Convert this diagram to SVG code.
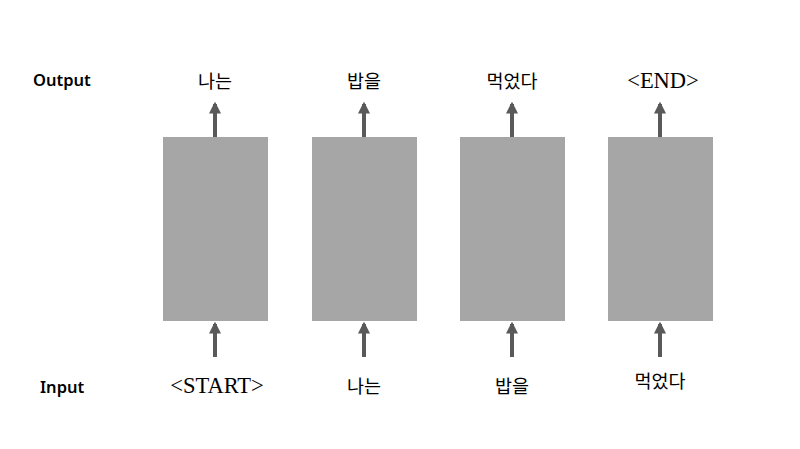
<svg xmlns="http://www.w3.org/2000/svg" width="800" height="449" viewBox="0 0 800 449">
<defs>
<style>
.box{fill:#a6a6a6}
.arr{stroke:#595959;stroke-width:4;fill:none}
.lbl{font-family:"Noto Sans","Noto Sans CJK KR",sans-serif;font-size:16.5px;font-weight:600;fill:#000}
.ko{font-family:"Noto Sans CJK KR",sans-serif;font-size:18.5px;fill:#000;text-anchor:middle}
.se{font-family:"Liberation Serif","Noto Sans CJK KR",serif;font-size:22.5px;fill:#000;text-anchor:middle}
</style>
<marker id="ah" viewBox="0 0 10 10" refX="8" refY="5" markerWidth="3" markerHeight="3" orient="auto" markerUnits="strokeWidth">
<path d="M0,0 L10,5 L0,10 Z" fill="#595959"/>
</marker>
</defs>
<rect width="800" height="449" fill="#fff"/>
<text class="lbl" x="33" y="86">Output</text>
<text class="lbl" x="40" y="393">Input</text>
<g id="cell1"><rect class="box" x="163" y="137" width="105" height="184"/></g>
<g id="cell2"><rect class="box" x="312" y="137" width="105" height="184"/></g>
<g id="cell3"><rect class="box" x="460" y="137" width="105" height="184"/></g>
<g id="cell4"><rect class="box" x="608" y="137" width="105" height="184"/></g>
<g id="out1"><text class="ko" x="215" y="88">나는</text></g>
<g id="out2"><text class="ko" x="364" y="88">밥을</text></g>
<g id="out3"><text class="ko" x="512" y="88">먹었다</text></g>
<g id="out4"><text class="se" x="663" y="88">&lt;END&gt;</text></g>
<g id="in1"><text class="se" x="217" y="393">&lt;START&gt;</text></g>
<g id="in2"><text class="ko" x="364" y="393">나는</text></g>
<g id="in3"><text class="ko" x="512" y="393">밥을</text></g>
<g id="in4"><text class="ko" x="660" y="388">먹었다</text></g>
<g id="connectors">
<line class="arr" x1="215" y1="137" x2="215" y2="104" marker-end="url(#ah)"/>
<line class="arr" x1="364" y1="137" x2="364" y2="104" marker-end="url(#ah)"/>
<line class="arr" x1="512" y1="137" x2="512" y2="104" marker-end="url(#ah)"/>
<line class="arr" x1="660" y1="137" x2="660" y2="104" marker-end="url(#ah)"/>
<line class="arr" x1="215" y1="357" x2="215" y2="324" marker-end="url(#ah)"/>
<line class="arr" x1="364" y1="357" x2="364" y2="324" marker-end="url(#ah)"/>
<line class="arr" x1="512" y1="357" x2="512" y2="324" marker-end="url(#ah)"/>
<line class="arr" x1="660" y1="357" x2="660" y2="324" marker-end="url(#ah)"/>
</g>
</svg>
